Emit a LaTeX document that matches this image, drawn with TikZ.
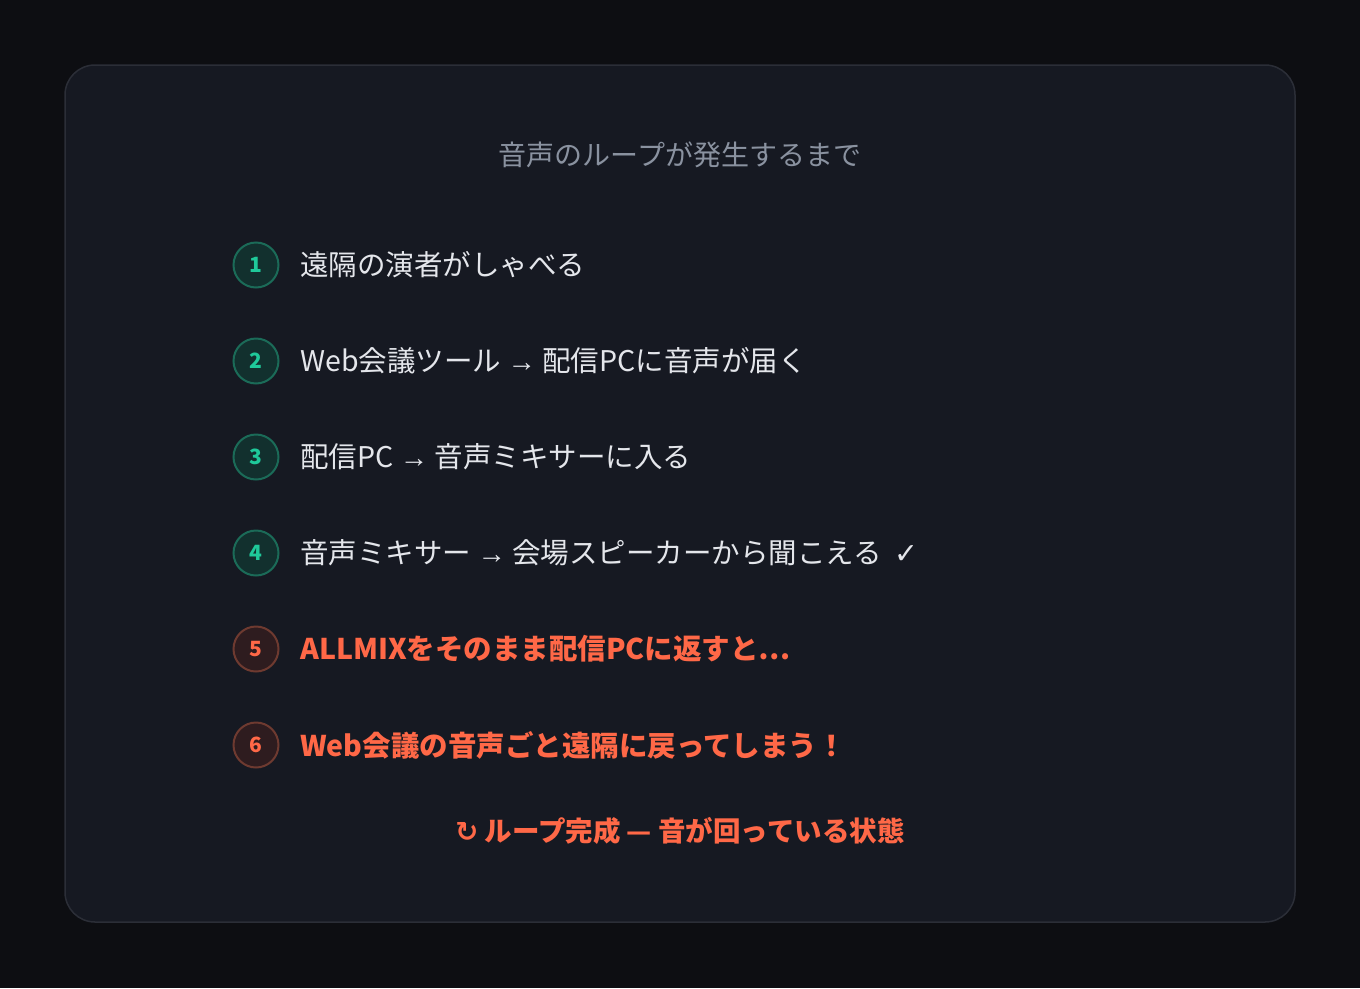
\documentclass[tikz,border=0pt]{standalone}
\usepackage{fontspec}
\setmainfont{Noto Sans CJK JP}
\newfontfamily\arrowfont{Liberation Sans}
\newfontfamily\symfont{DejaVu Sans}
\definecolor{pagebg}{HTML}{0D0E12}
\definecolor{cardbg}{HTML}{161922}
\definecolor{cardline}{HTML}{2B2E37}
\definecolor{titlegray}{HTML}{8A92A0}
\definecolor{steptext}{HTML}{E4E6EB}
\definecolor{alertred}{HTML}{FF6847}
\definecolor{okfill}{HTML}{12302E}
\definecolor{okline}{HTML}{1B6B58}
\definecolor{oknum}{HTML}{1FC99A}
\definecolor{ngfill}{HTML}{2E1C1F}
\definecolor{ngline}{HTML}{6E3A30}

\begin{document}
\begin{tikzpicture}[x=1pt, y=-1pt]
\tikzset{okmark/.style={draw=okline, fill=okfill, circle, line width=2pt, minimum size=45pt, inner sep=0pt, text=oknum, font=\bfseries\fontsize{21}{21}\selectfont}}
\tikzset{ngmark/.style={okmark, draw=ngline, fill=ngfill, text=alertred}}
\tikzset{okstep/.style={anchor=west, inner sep=0pt, text=steptext, font=\fontsize{28.5}{28.5}\selectfont}}
\tikzset{ngstep/.style={okstep, text=alertred, font=\bfseries\fontsize{28.5}{28.5}\selectfont}}
\useasboundingbox (0, 0) rectangle (1360, 988);
\fill[pagebg] (0, 0) rectangle (1360, 988);
\draw[cardline, fill=cardbg, line width=1.5pt, rounded corners=30pt] (65, 65) rectangle (1295, 922);
\node[text=titlegray, font=\fontsize{28}{28}\selectfont] (title) at (680, 155) {音声のループが発生するまで};
\node[okmark] (N1) at (256, 265) {1};
\node[okmark] (N2) at (256, 361) {2};
\node[okmark] (N3) at (256, 457) {3};
\node[okmark] (N4) at (256, 553) {4};
\node[ngmark] (N5) at (256, 649) {5};
\node[ngmark] (N6) at (256, 745) {6};
\node[okstep] (S1) at (300, 265) {遠隔の演者がしゃべる};
\node[okstep] (S2) at (300, 361) {Web会議ツール {\arrowfont →} 配信PCに音声が届く};
\node[okstep] (S3) at (300, 457) {配信PC {\arrowfont →} 音声ミキサーに入る};
\node[okstep] (S4) at (300, 553) {音声ミキサー {\arrowfont →} 会場スピーカーから聞こえる\ \ {\symfont ✓}};
\node[ngstep] (S5) at (300, 649) {ALLMIXをそのまま配信PCに返すと…};
\node[ngstep] (S6) at (300, 745) {Web会議の音声ごと遠隔に戻ってしまう！};
\node[text=alertred, font=\bfseries\fontsize{27.5}{27.5}\selectfont] (loop) at (680, 831) {{\symfont ↻} ループ完成 — 音が回っている状態};
\end{tikzpicture}
\end{document}
